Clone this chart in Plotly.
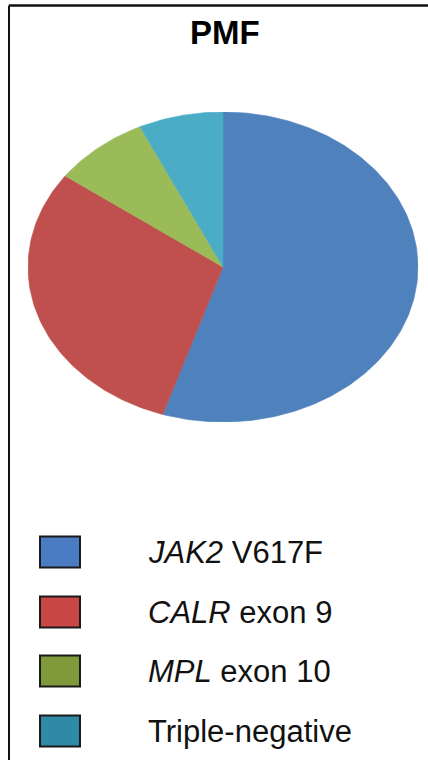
import numpy as np
import plotly.graph_objects as go

# Mutation frequencies in PMF (percent of patients)
categories = ["<i>JAK2</i> V617F", "<i>CALR</i> exon 9", "<i>MPL</i> exon 10", "Triple-negative"]
values = [55, 30, 8, 7]
pie_colors = ["#4F81BD", "#C0504D", "#9BBB59", "#4BACC6"]
swatch_colors = ["#4A7CC4", "#C84646", "#7E9A3B", "#2F8BA5"]

W, H = 428, 760
FONT = "Liberation Sans, Arial, sans-serif"

fig = go.Figure()

# Slices drawn clockwise from 12 o'clock as filled wedges on a unit circle;
# unequal axis domains give the pie its elliptical shape.
total = float(sum(values))
start = 0.0
for name, v, col in zip(categories, values, pie_colors):
    frac = v / total
    n = max(12, int(400 * frac))
    th = 2 * np.pi * np.linspace(start, start + frac, n)
    xs = np.concatenate([[0.0], np.sin(th), [0.0]])
    ys = np.concatenate([[0.0], np.cos(th), [0.0]])
    fig.add_trace(go.Scatter(
        x=xs, y=ys, mode="lines", fill="toself", fillcolor=col,
        line=dict(color=col, width=0.6), name=name, hoverinfo="name",
        showlegend=False,
    ))
    start += frac

px0, px1 = 28, 418
py0, py1 = 112, 422
fig.update_xaxes(range=[-1, 1], domain=[px0 / W, px1 / W], visible=False, fixedrange=True)
fig.update_yaxes(range=[-1, 1], domain=[1 - py1 / H, 1 - py0 / H], visible=False, fixedrange=True)

shapes = []
annotations = []

# Frame lines (top and left)
shapes.append(dict(type="line", xref="paper", yref="paper",
                   x0=9 / W, x1=1, y0=1 - 5.5 / H, y1=1 - 5.5 / H,
                   line=dict(color="#111111", width=2.5)))
shapes.append(dict(type="line", xref="paper", yref="paper",
                   x0=9 / W, x1=9 / W, y0=0, y1=1 - 5.5 / H,
                   line=dict(color="#111111", width=2)))

# Title
annotations.append(dict(text="<b>PMF</b>", xref="paper", yref="paper",
                        x=224.5 / W, y=1 - 32 / H, xanchor="center", yanchor="middle",
                        showarrow=False, font=dict(family=FONT, size=33, color="#000000")))

# Legend: swatches and labels
row_y = [552, 612, 671, 731]
for name, col, cy in zip(categories, swatch_colors, row_y):
    shapes.append(dict(type="rect", xref="paper", yref="paper",
                       x0=40 / W, x1=80 / W, y0=1 - (cy + 15.5) / H, y1=1 - (cy - 15.5) / H,
                       fillcolor=col, line=dict(color="#1a1a1a", width=2)))
    annotations.append(dict(text=name, xref="paper", yref="paper",
                            x=146 / W, y=1 - cy / H, xanchor="left", yanchor="middle",
                            showarrow=False,
                            font=dict(family=FONT, size=31, color="#111111")))

fig.update_layout(
    width=W, height=H,
    margin=dict(l=0, r=0, t=0, b=0),
    paper_bgcolor="white", plot_bgcolor="white",
    shapes=shapes, annotations=annotations,
    showlegend=False,
)

fig.write_html("out.html", config={"displayModeBar": False})
